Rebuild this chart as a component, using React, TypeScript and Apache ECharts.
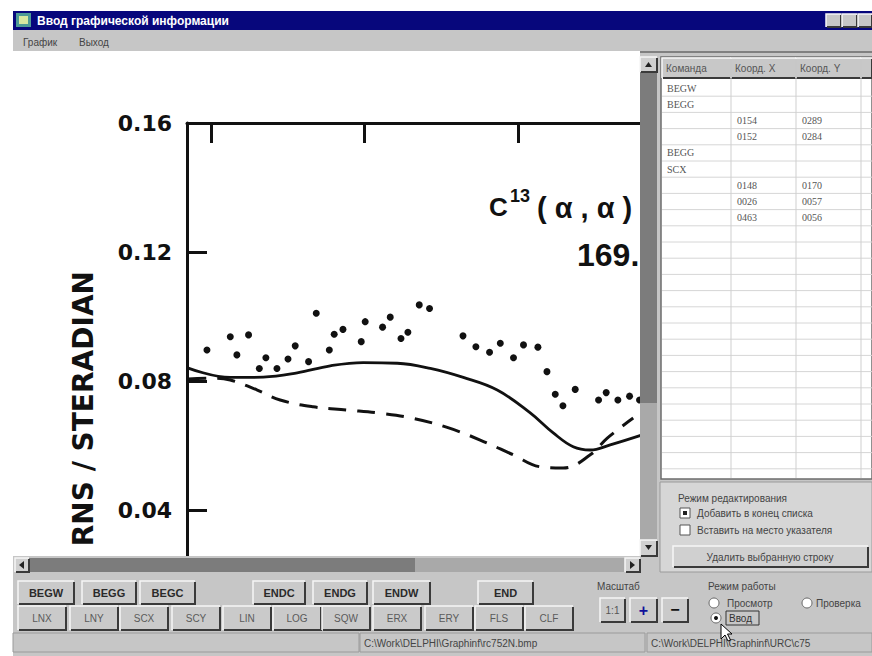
import React, { useEffect, useRef } from "react";
import * as echarts from "echarts";

// ---- chart data ----
const dotsX = [19.75, 21.27, 21.7, 22.46, 23.16, 23.59, 24.31, 25.03, 25.5, 26.37, 26.87, 27.72, 28.04, 28.61, 29.8, 30.06, 31.19, 31.69, 32.39, 32.84, 33.58, 34.25, 36.43, 37.27, 38.16, 38.86, 39.72, 40.37, 41.31, 41.9, 42.44, 42.94, 43.74, 45.26, 45.76, 46.52, 47.28, 47.93];
const dotsY = [0.0896, 0.0937, 0.0881, 0.0943, 0.0839, 0.0872, 0.0839, 0.0868, 0.0909, 0.086, 0.101, 0.0896, 0.0945, 0.096, 0.0922, 0.0984, 0.0967, 0.0998, 0.0932, 0.0951, 0.1036, 0.1025, 0.094, 0.0906, 0.0889, 0.0917, 0.0872, 0.0912, 0.0905, 0.0829, 0.0759, 0.0723, 0.0774, 0.0741, 0.0764, 0.0741, 0.0753, 0.0741];

const solidX = [18.53, 21.27, 23.42, 25.63, 27.78, 29.93, 32.15, 34.3, 36.45, 38.66, 40.81, 42.31, 43.61, 44.72, 46.02, 48.11];
const solidY = [0.084, 0.0811, 0.0812, 0.0825, 0.0847, 0.0857, 0.0855, 0.0839, 0.0811, 0.0772, 0.0701, 0.0639, 0.0596, 0.0586, 0.0602, 0.0633];

const dashX = [18.53, 20.16, 21.27, 23.03, 24.52, 26.67, 28.89, 31.04, 33.19, 35.4, 37.55, 39.7, 41.46, 42.96, 44.72, 45.83, 47.52];
const dashY = [0.0806, 0.0809, 0.0803, 0.0772, 0.0741, 0.072, 0.071, 0.07, 0.0684, 0.0656, 0.0617, 0.0571, 0.0534, 0.053, 0.0571, 0.0623, 0.0685];

// ---- UI texts ----
const windowTitle = "Ввод графической информации";
const menuItems = ["График", "Выход"];
const tableHeaders = ["Команда", "Коорд. X", "Коорд. Y"];
const tableRows = [
  ["BEGW", "", ""],
  ["BEGG", "", ""],
  ["", "0154", "0289"],
  ["", "0152", "0284"],
  ["BEGG", "", ""],
  ["SCX", "", ""],
  ["", "0148", "0170"],
  ["", "0026", "0057"],
  ["", "0463", "0056"],
];
const buttonsRow1 = ["BEGW", "BEGG", "BEGC", "ENDC", "ENDG", "ENDW", "END"];
const buttonsRow2 = ["LNX", "LNY", "SCX", "SCY", "LIN", "LOG", "SQW", "ERX", "ERY", "FLS", "CLF"];
const statusTexts = ["C:\\Work\\DELPHI\\Graphinf\\rc752N.bmp", "C:\\Work\\DELPHI\\Graphinf\\URC\\c75"];

const GREY = "#c6c6c6";
const UI_FONT = "Liberation Sans";

function rect(x: number, y: number, w: number, h: number, fill: string, z = 100, stroke?: string, lw = 1): any {
  return {
    type: "rect", z, silent: true,
    shape: { x, y, width: w, height: h },
    style: { fill, stroke: stroke || null, lineWidth: lw },
  };
}

function line(x1: number, y1: number, x2: number, y2: number, stroke: string, lw = 1, z = 102, dash?: number[]): any {
  return {
    type: "line", z, silent: true,
    shape: { x1, y1, x2, y2 },
    style: { stroke, lineWidth: lw, lineDash: dash || null },
  };
}

function bevel(x: number, y: number, w: number, h: number, raised = true, fill = GREY, z = 101): any[] {
  const light = raised ? "#f6f6f6" : "#707070";
  const dark = raised ? "#3a3a3a" : "#f6f6f6";
  return [
    rect(x, y, w, h, fill, z),
    { type: "polyline", z: z + 1, silent: true, shape: { points: [[x, y + h], [x, y], [x + w, y]] }, style: { stroke: light, lineWidth: 1.5, fill: null } },
    { type: "polyline", z: z + 1, silent: true, shape: { points: [[x + 1, y + h], [x + w, y + h], [x + w, y + 1]] }, style: { stroke: dark, lineWidth: 2, fill: null } },
  ];
}

function label(x: number, y: number, text: string, o: any = {}): any {
  return {
    type: "text", z: o.z ?? 110, silent: true, x, y, rotation: o.rotation ?? 0,
    style: {
      text,
      fill: o.color ?? "#333",
      fontSize: o.size ?? 10,
      fontFamily: o.family ?? UI_FONT,
      fontWeight: o.weight ?? "normal",
      textAlign: o.align ?? "left",
      textVerticalAlign: o.valign ?? "middle",
    },
  };
}

function buildGraphics(): any[] {
  const g: any[] = [];

  // chart annotations (under the window chrome)
  g.push(label(489, 207, "C", { z: 10, size: 26, weight: "bold", family: "Liberation Sans", color: "#111" }));
  g.push(label(510, 196, "13", { z: 10, size: 18, weight: "bold", family: "Liberation Sans", color: "#111" }));
  g.push(label(537, 208, "( α , α )", { z: 10, size: 29, weight: "bold", family: "Liberation Sans", color: "#111" }));
  g.push(label(577, 255, "169.", { z: 10, size: 32, weight: "bold", family: "Liberation Sans", color: "#111" }));
  g.push(label(83, 271, "RNS / STERADIAN", { z: 10, size: 28, weight: "bold", family: "DejaVu Sans", color: "#111", rotation: Math.PI / 2, align: "right" }));

  // white margins of the screenshot
  g.push(rect(0, 0, 872, 11, "#ffffff", 100));
  g.push(rect(0, 0, 13, 656, "#ffffff", 100));

  // title bar
  g.push(rect(13, 11, 859, 19, "#07077c", 100));
  g.push(rect(16, 13, 15, 14, "#4d9a96", 101));
  g.push(rect(19, 16, 9, 8, "#d8e8a0", 102));
  g.push(label(37, 20.5, windowTitle, { color: "#ffffff", size: 12, weight: "bold" }));
  g.push(...bevel(826, 14, 15, 13, true, "#c8c8c8", 101));
  g.push(...bevel(842, 14, 15, 13, true, "#c8c8c8", 101));
  g.push(...bevel(858, 14, 14, 13, true, "#c8c8c8", 101));

  // menu bar
  g.push(rect(13, 30, 859, 21, GREY, 100));
  g.push(label(23, 42, menuItems[0], { size: 10, color: "#444" }));
  g.push(label(79, 42, menuItems[1], { size: 10, color: "#444" }));

  // right side grey area
  g.push(rect(640, 51, 232, 521, GREY, 100));
  g.push(line(640, 52, 872, 52, "#808080", 2, 101));

  // vertical scrollbar of the picture
  g.push(...bevel(640, 57, 17, 15, true, "#d0d0d0", 101));
  g.push({ type: "polygon", z: 104, silent: true, shape: { points: [[645, 67], [648.5, 62], [652, 67]] }, style: { fill: "#222" } });
  g.push(rect(640, 72, 17, 331, "#7c7c7c", 101));
  g.push(rect(640, 403, 17, 137, "#a9a9a9", 101));
  g.push(...bevel(640, 540, 17, 16, true, "#d0d0d0", 101));
  g.push({ type: "polygon", z: 104, silent: true, shape: { points: [[645, 545], [648.5, 550], [652, 545]] }, style: { fill: "#222" } });

  // horizontal scrollbar of the picture
  g.push(rect(13, 556, 644, 16, GREY, 100));
  g.push(...bevel(15, 558, 14, 14, true, "#d0d0d0", 101));
  g.push({ type: "polygon", z: 104, silent: true, shape: { points: [[24, 561], [19, 565], [24, 569]] }, style: { fill: "#222" } });
  g.push(rect(29, 558, 386, 14, "#7c7c7c", 101));
  g.push(rect(415, 558, 210, 14, "#a9a9a9", 101));
  g.push(...bevel(625, 558, 15, 14, true, "#d0d0d0", 101));
  g.push({ type: "polygon", z: 104, silent: true, shape: { points: [[630, 561], [635, 565], [630, 569]] }, style: { fill: "#222" } });

  // table
  g.push(rect(661, 57, 211, 422, "#ffffff", 101, "#6c6c6c", 1.5));
  const colX = [662, 731, 796, 861, 872];
  for (let c = 0; c < 4; c++) {
    g.push(...bevel(colX[c], 58, colX[c + 1] - colX[c], 20, true, "#c8c8c8", 102));
  }
  tableHeaders.forEach((h, i) => g.push(label(colX[i] + 4, 68.5, h, { size: 10, color: "#555" })));
  for (let i = 1; i <= 24; i++) {
    const y = 80 + 16.2 * i;
    if (y < 478) g.push(line(662, y, 872, y, "#d6d6d6", 1, 103));
  }
  for (let c = 1; c < 4; c++) g.push(line(colX[c], 78, colX[c], 478, "#cfcfcf", 1, 103));
  tableRows.forEach((row, r) => {
    const cy = 88.1 + 16.2 * r;
    row.forEach((cell, c) => {
      if (cell) g.push(label(colX[c] + (c === 0 ? 5 : 6), cy, cell, { size: 10, color: "#555", family: "Liberation Sans Narrow" }));
    });
  });

  // edit mode group
  g.push(rect(660, 482, 212, 90, "#d6d6d6", 101, "#9a9a9a", 1));
  g.push(label(678, 498, "Режим редактирования", { size: 10, color: "#444" }));
  g.push(rect(680, 508, 10, 10, "#ffffff", 102, "#555", 1));
  g.push(rect(683, 511, 4, 4, "#222", 103));
  g.push(label(697, 513, "Добавить в конец списка", { size: 10, color: "#444" }));
  g.push(rect(680, 525, 10, 10, "#ffffff", 102, "#555", 1));
  g.push(label(697, 530, "Вставить на место указателя", { size: 10, color: "#444" }));
  g.push(...bevel(673, 546, 195, 21, true, "#d0d0d0", 102));
  g.push(label(770, 557, "Удалить выбранную строку", { size: 10, color: "#444", align: "center" }));

  // bottom panel
  g.push(rect(13, 572, 859, 84, GREY, 100));
  const r1x = [18, 82, 140, 253, 313, 373, 478];
  const r1w = [56, 54, 55, 52, 54, 57, 55];
  buttonsRow1.forEach((b, i) => {
    g.push(...bevel(r1x[i], 581, r1w[i], 23, true, "#cacaca", 101));
    g.push(label(r1x[i] + r1w[i] / 2, 592.5, b, { size: 11, weight: "bold", color: "#2a2a2a", align: "center" }));
  });
  const r2x = [18, 70, 120, 172, 223, 273, 322, 373, 425, 475, 525];
  buttonsRow2.forEach((b, i) => {
    g.push(...bevel(r2x[i], 606, 48, 24, true, "#cacaca", 101));
    g.push(label(r2x[i] + 24, 618, b, { size: 10, color: "#5a5a5a", align: "center" }));
  });

  // scale controls
  g.push(label(597, 586, "Масштаб", { size: 10, color: "#444" }));
  g.push(...bevel(600, 598, 25, 24, true, "#cacaca", 101));
  g.push(label(612.5, 610, "1:1", { size: 10, color: "#555", align: "center" }));
  g.push(...bevel(630, 598, 27, 24, true, "#cacaca", 101));
  g.push(label(643.5, 610, "+", { size: 16, weight: "bold", color: "#10109a", align: "center" }));
  g.push(...bevel(662, 598, 26, 24, true, "#cacaca", 101));
  g.push(label(675, 609, "−", { size: 16, weight: "bold", color: "#111", align: "center" }));

  // work mode
  g.push(label(708, 586, "Режим работы", { size: 10, color: "#444" }));
  g.push({ type: "circle", z: 102, silent: true, shape: { cx: 714, cy: 603, r: 5 }, style: { fill: "#ffffff", stroke: "#666", lineWidth: 1 } });
  g.push(label(727, 603, "Просмотр", { size: 10, color: "#444" }));
  g.push({ type: "circle", z: 102, silent: true, shape: { cx: 807, cy: 603, r: 5 }, style: { fill: "#ffffff", stroke: "#666", lineWidth: 1 } });
  g.push(label(816, 603, "Проверка", { size: 10, color: "#444" }));
  g.push({ type: "circle", z: 102, silent: true, shape: { cx: 716, cy: 618, r: 5 }, style: { fill: "#ffffff", stroke: "#666", lineWidth: 1 } });
  g.push({ type: "circle", z: 103, silent: true, shape: { cx: 716, cy: 618, r: 2 }, style: { fill: "#111" } });
  g.push(rect(726, 611, 33, 14, "none", 103, "#333", 1));
  g.push(label(729, 618, "Ввод", { size: 10, color: "#333" }));
  g.push({
    type: "polygon", z: 120, silent: true,
    shape: { points: [[721, 624], [721, 639], [725, 635], [728, 641], [730.5, 640], [727.5, 634], [732, 634]] },
    style: { fill: "#ffffff", stroke: "#000", lineWidth: 1 },
  });

  // status bar
  g.push(rect(13, 633, 346, 19, GREY, 101, "#9a9a9a", 1));
  g.push(rect(360, 633, 285, 19, GREY, 101, "#9a9a9a", 1));
  g.push(rect(647, 633, 225, 19, GREY, 101, "#9a9a9a", 1));
  g.push(label(364, 643, statusTexts[0], { size: 10, color: "#444" }));
  g.push(label(651, 643, statusTexts[1], { size: 10, color: "#444" }));

  return g;
}

export default function App() {
  const ref = useRef<HTMLDivElement>(null);
  useEffect(() => {
    const chart = echarts.init(ref.current as HTMLDivElement, null, { renderer: "svg" });
    const axisStyle = { color: "#111", width: 3 };
    chart.setOption({
      animation: false,
      backgroundColor: "#ffffff",
      grid: { left: 187, top: 123, width: 513, height: 516, containLabel: false },
      xAxis: {
        type: "value",
        position: "top",
        min: 18.45,
        max: 51.87,
        splitNumber: 3,
        axisLine: { show: true, onZero: false, lineStyle: axisStyle },
        axisTick: { show: true, inside: true, length: 20, lineStyle: axisStyle },
        axisLabel: { show: false },
        splitLine: { show: false },
      },
      yAxis: {
        type: "value",
        min: 0,
        max: 0.16,
        interval: 0.04,
        axisLine: { show: true, onZero: false, lineStyle: axisStyle },
        axisTick: { show: true, inside: true, length: 20, lineStyle: axisStyle },
        axisLabel: {
          formatter: (v: number) => (v === 0 ? "" : v.toFixed(2)),
          fontFamily: "DejaVu Sans",
          fontWeight: "bold",
          fontSize: 22,
          color: "#111",
          margin: 15,
        },
        splitLine: { show: false },
      },
      series: [
        {
          type: "line",
          data: solidX.map((x, i) => [x, solidY[i]]),
          smooth: 0.4,
          showSymbol: false,
          symbol: "none",
          lineStyle: { color: "#111", width: 2.8 },
        },
        {
          type: "line",
          data: dashX.map((x, i) => [x, dashY[i]]),
          smooth: 0.4,
          showSymbol: false,
          symbol: "none",
          lineStyle: { color: "#111", width: 3, type: [18, 11] },
        },
        {
          type: "scatter",
          data: dotsX.map((x, i) => [x, dotsY[i]]),
          symbol: "circle",
          symbolSize: 7,
          itemStyle: { color: "#111", opacity: 1 },
        },
      ],
      graphic: { elements: buildGraphics() },
    });
    return () => chart.dispose();
  }, []);
  return <div ref={ref} style={{ position: "absolute", left: 0, top: 0, width: 872, height: 656 }} />;
}
